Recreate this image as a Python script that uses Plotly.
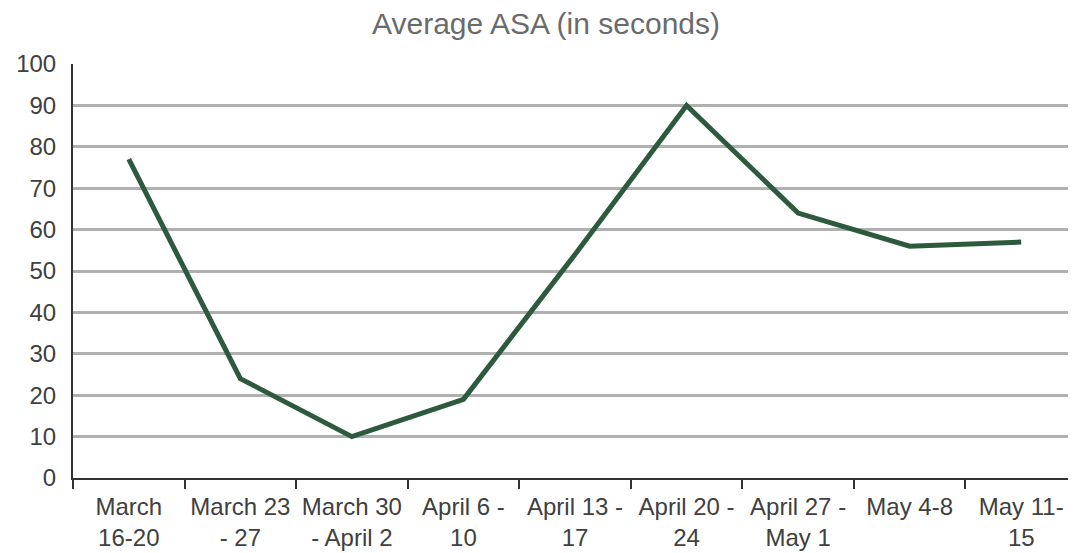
import plotly.graph_objects as go

categories = ["March<br>16-20", "March 23<br>- 27", "March 30<br>- April 2", "April 6 -<br>10",
              "April 13 -<br>17", "April 20 -<br>24", "April 27 -<br>May 1", "May 4-8", "May 11-<br>15"]
asa_values = [77, 24, 10, 19, 54, 90, 64, 56, 57]
y_ticks = list(range(0, 101, 10))

fig = go.Figure()
fig.add_trace(go.Scatter(x=categories, y=asa_values, mode="lines",
                         line=dict(color="#2d5a3d", width=5), showlegend=False))

font = "Liberation Sans, Arial, sans-serif"
fig.update_layout(
    width=1076, height=553,
    margin=dict(l=65, r=7, t=56, b=83, autoexpand=False),
    paper_bgcolor="white", plot_bgcolor="white",
    title=dict(text="Average ASA (in seconds)", x=0.5, xanchor="center", y=0.972, yanchor="middle",
               font=dict(family=font, size=30, color="#6b6b6b")),
    font=dict(family=font, size=25, color="#404040"),
)
fig.update_xaxes(type="category", tickson="boundaries", ticks="outside", ticklen=9, tickwidth=2,
                 tickcolor="#333", showline=True, linecolor="#333", linewidth=2, showgrid=False,
                 tickangle=0, automargin=False, range=[-0.5, 8.5], ticklabelstandoff=6,
                 tickfont=dict(size=24, color="#404040"))
fig.update_yaxes(range=[0, 100], tickvals=y_ticks, showgrid=True, gridcolor="#b0b0b0", gridwidth=2.5,
                 showline=True, linecolor="#333", linewidth=2, ticks="", ticklabelstandoff=10,
                 automargin=False, zeroline=False, tickfont=dict(size=24, color="#404040"))
fig.write_html("out.html")
